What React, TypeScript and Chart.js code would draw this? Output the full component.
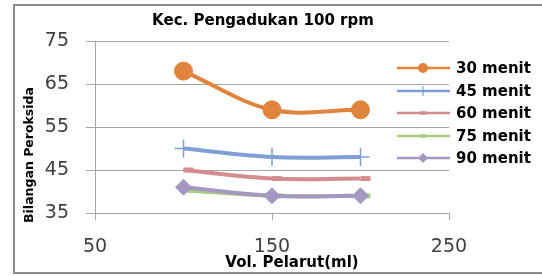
import React, { useEffect, useRef } from "react";
import { Chart, registerables } from "chart.js";

Chart.register(...registerables);

const chartTitle = "Kec. Pengadukan 100 rpm";
const xAxisTitle = "Vol. Pelarut(ml)";
const yAxisTitle = "Bilangan Peroksida";

const volumes = [100, 150, 200];
const seriesLabels = ["30 menit", "45 menit", "60 menit", "75 menit", "90 menit"];
const menit30 = [68, 59, 59];
const menit45 = [50, 48, 48];
const menit60 = [45, 43, 43];
const menit75 = [40.3, 39, 39];
const menit90 = [41, 39, 39];

const xMin = 50;
const xMax = 250;
const xStep = 100;
const yMin = 35;
const yMax = 75;
const yStep = 10;

const seriesValues = [menit30, menit45, menit60, menit75, menit90];
const seriesColors = ["#E0833C", "#7F9FD6", "#D48C8C", "#A8CA82", "#A596C2"];
const seriesStyles = ["circle", "cross", "dash", "dash", "rectRot"];
const seriesRadius = [9, 9, 10, 10, 8];
const seriesPointBorder = [1, 1.5, 5, 5, 1];

const FONT = "DejaVu Sans";

function drawMarker(ctx: CanvasRenderingContext2D, style: string, x: number, y: number, r: number, color: string) {
  ctx.save();
  ctx.fillStyle = color;
  ctx.strokeStyle = color;
  ctx.beginPath();
  if (style === "circle") {
    ctx.arc(x, y, r, 0, Math.PI * 2);
    ctx.fill();
  } else if (style === "cross") {
    ctx.lineWidth = 1.2;
    ctx.moveTo(x, y - r);
    ctx.lineTo(x, y + r);
    ctx.stroke();
  } else if (style === "dash") {
    ctx.lineWidth = 3.5;
    ctx.moveTo(x - r, y);
    ctx.lineTo(x + r, y);
    ctx.stroke();
  } else if (style === "rectRot") {
    ctx.moveTo(x, y - r);
    ctx.lineTo(x + r, y);
    ctx.lineTo(x, y + r);
    ctx.lineTo(x - r, y);
    ctx.closePath();
    ctx.fill();
  }
  ctx.restore();
}

const decorPlugin = {
  id: "decor",
  beforeDraw(chart: any) {
    const ctx = chart.ctx as CanvasRenderingContext2D;
    ctx.save();
    ctx.fillStyle = "#ffffff";
    ctx.fillRect(0, 0, chart.width, chart.height);
    ctx.strokeStyle = "#8c8c8c";
    ctx.lineWidth = 2;
    ctx.strokeRect(14, 5, 600, 268);
    ctx.restore();
  },
  afterDraw(chart: any) {
    const ctx = chart.ctx as CanvasRenderingContext2D;
    ctx.save();
    ctx.fillStyle = "#000000";
    ctx.textAlign = "center";
    ctx.textBaseline = "middle";
    ctx.font = `bold 15px "${FONT}"`;
    ctx.fillText(chartTitle, 263, 21);
    ctx.font = `bold 15px "${FONT}"`;
    ctx.fillText(xAxisTitle, 292, 263);
    ctx.save();
    ctx.translate(30, 155);
    ctx.rotate(-Math.PI / 2);
    ctx.font = `bold 12.5px "${FONT}"`;
    ctx.fillText(yAxisTitle, 0, 0);
    ctx.restore();

    // legend
    const rowY = [68, 91, 113, 136, 158];
    seriesLabels.forEach((label, i) => {
      const y = rowY[i];
      const color = seriesColors[i];
      ctx.save();
      ctx.strokeStyle = color;
      ctx.lineWidth = 2.5;
      ctx.beginPath();
      ctx.moveTo(397, y);
      ctx.lineTo(450, y);
      ctx.stroke();
      ctx.restore();
      const style = seriesStyles[i];
      const r = style === "circle" ? 5 : style === "rectRot" ? 5 : style === "cross" ? 5 : 3;
      drawMarker(ctx, style, 423, y, r, color);
      ctx.fillStyle = "#000000";
      ctx.textAlign = "left";
      ctx.textBaseline = "middle";
      ctx.font = `bold 15px "${FONT}"`;
      ctx.fillText(label, 456, y + 1);
    });
    ctx.restore();
  },
};

export default function App() {
  const canvasRef = useRef<HTMLCanvasElement | null>(null);

  useEffect(() => {
    const canvas = canvasRef.current;
    if (!canvas) return;
    const datasets = seriesLabels.map((label, i) => ({
      label,
      data: volumes.map((v, j) => ({ x: v, y: seriesValues[i][j] })),
      borderColor: seriesColors[i],
      backgroundColor: seriesColors[i],
      borderWidth: 4,
      tension: 0.35,
      pointStyle: seriesStyles[i] as any,
      pointRadius: seriesRadius[i],
      pointBackgroundColor: seriesColors[i],
      pointBorderColor: seriesColors[i],
      pointBorderWidth: seriesPointBorder[i],
      order: seriesLabels.length - 1 - i,
      fill: false,
    }));
    const chart = new Chart(canvas, {
      type: "line",
      data: { datasets },
      options: {
        responsive: false,
        animation: false,
        devicePixelRatio: 1,
        layout: { padding: { left: 0, top: 41, right: 93, bottom: 0 } },
        plugins: {
          legend: { display: false },
          title: { display: false },
          tooltip: { enabled: false },
        },
        scales: {
          x: {
            type: "linear",
            min: xMin,
            max: xMax,
            ticks: {
              stepSize: xStep,
              color: "#404040",
              font: { family: FONT, size: 19 },
              padding: 16,
              maxRotation: 0,
            },
            grid: { drawOnChartArea: false, tickLength: 7, color: "#a6a6a6" },
            border: { color: "#a6a6a6" },
            afterFit: (s: any) => {
              s.height = 63;
            },
          },
          y: {
            min: yMin,
            max: yMax,
            ticks: {
              stepSize: yStep,
              color: "#404040",
              font: { family: FONT, size: 19 },
              padding: 17,
            },
            grid: { color: "#a6a6a6", tickLength: 9 },
            border: { color: "#a6a6a6" },
            afterFit: (s: any) => {
              s.width = 95;
            },
          },
        },
      },
      plugins: [decorPlugin],
    });
    return () => chart.destroy();
  }, []);

  return (
    <div style={{ position: "absolute", left: 0, top: 0, width: 542, height: 276 }}>
      <canvas ref={canvasRef} width={542} height={276} style={{ display: "block" }} />
    </div>
  );
}
